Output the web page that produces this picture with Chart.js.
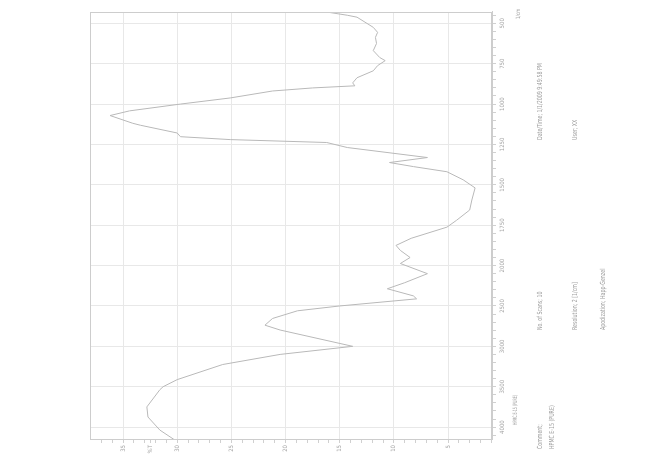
<!DOCTYPE html>
<html>
<head>
<meta charset="utf-8">
<script src="https://cdn.jsdelivr.net/npm/chart.js@4/dist/chart.umd.min.js"></script>
<style>
  body { margin: 0; background: #fff; overflow: hidden; width: 669px; height: 455px; }
  #wrap { position: absolute; left: 107px; top: -107px; width: 455px; height: 669px; transform: rotate(-90deg); }
  #c { position: absolute; left: 0; top: 0; }
  .t { position: absolute; font: 7px "Liberation Sans Narrow", "DejaVu Sans Condensed", sans-serif; line-height: 8px;
       color: #9a9a9a; white-space: nowrap; transform: scaleX(0.75); transform-origin: left center; }
</style>
</head>
<body>
<div id="wrap">
  <canvas id="c" width="455" height="669"></canvas>
  <div class="t" style="left:30px;top:511px;font-size:6px;transform:scaleX(0.6)">HPMC E-15 (PURE)</div>
  <div class="t" style="left:436px;top:514px;font-size:6px">1/cm</div>
  <div class="t" style="left:6px;top:536px">Comment;</div>
  <div class="t" style="left:6px;top:548px">HPMC E-15 (PURE)</div>
  <div class="t" style="left:125px;top:536px">No. of Scans; 10</div>
  <div class="t" style="left:125px;top:571px">Resolution; 2 [1/cm]</div>
  <div class="t" style="left:125px;top:599px">Apodization; Happ-Genzel</div>
  <div class="t" style="left:315px;top:536px">Date/Time; 1/1/2009 9:49:58 PM</div>
  <div class="t" style="left:315px;top:571px">User; XX</div>
</div>
<script>
// IR spectrum (wavenumber in 1/cm, transmittance in %T)
const WAVENUMBER = [4162, 4037, 3875, 3750, 3537, 3500, 3412, 3225, 3100, 3000, 2798, 2738, 2655, 2560, 2500,
  2412, 2375, 2287, 2212, 2100, 1987, 1950, 1906, 1875, 1831, 1762, 1719, 1656, 1594, 1519, 1469, 1419, 1387,
  1362, 1331, 1269, 1238, 1220, 1202, 1179, 1131, 1119, 1071, 1042, 1000, 962, 919, 900, 887, 869, 837, 794,
  762, 731, 712, 669, 625, 587, 556, 525, 462, 450, 431];
const TRANSMITTANCE = [30.2, 31.6, 32.7, 32.8, 31.6, 31.3, 30.0, 25.8, 20.5, 13.8, 20.5, 21.9, 21.2, 18.9, 15.0,
  7.9, 8.2, 10.6, 9.0, 6.9, 9.4, 8.5, 9.4, 9.8, 8.4, 5.1, 4.2, 3.0, 2.8, 2.5, 3.6, 5.1, 8.2,
  10.4, 6.9, 14.3, 16.2, 25.1, 29.7, 30.0, 33.4, 34.1, 36.2, 34.4, 29.7, 25.1, 21.2, 17.5, 13.6, 13.8, 13.4, 11.9,
  11.5, 10.8, 11.3, 11.9, 11.6, 11.7, 11.5, 11.9, 13.4, 14.3, 16.1];
const WN_TICKS = [4000, 3500, 3000, 2500, 2000, 1750, 1500, 1250, 1000, 750, 500];
const T_TICKS = [35, 30, 25, 20, 15, 10, 5];

// wavenumber axis is expanded 2x below 2000 1/cm
const tf = v => (v <= 2000 ? v : 2000 + (v - 2000) / 2);
const itf = t => (t <= 2000 ? t : 2000 + (t - 2000) * 2);

class SplitScale extends Chart.LinearScale {
  getPixelForValue(v) {
    if (v === null || v === undefined) return NaN;
    const a = tf(this.min), b = tf(this.max);
    return this.getPixelForDecimal((tf(v) - a) / (b - a));
  }
  getValueForPixel(p) {
    const a = tf(this.min), b = tf(this.max);
    return itf(a + this.getDecimalForPixel(p) * (b - a));
  }
}
SplitScale.id = "split";
SplitScale.defaults = Chart.LinearScale.defaults;
Chart.register(SplitScale);

const wnMinor = [];
for (let v = 450; v <= 4100; v += v < 2000 ? 50 : 100) wnMinor.push(v);
const tMinor = [];
for (let v = 1; v <= 37; v++) tMinor.push(v);

const frame = {
  id: "frame",
  afterDraw(chart) {
    const { ctx, chartArea: a } = chart;
    ctx.save();
    ctx.strokeStyle = "#cdcdcd";
    ctx.lineWidth = 1;
    ctx.strokeRect(a.left + 0.5, a.top + 0.5, a.right - a.left - 1, a.bottom - a.top - 1);
    ctx.restore();
  },
};

const gridColor = (majors) => (c) =>
  c.tick && majors.includes(c.tick.value) ? "#e8e8e8" : "rgba(0,0,0,0)";
const tickFont = { family: "'Liberation Sans Narrow', 'DejaVu Sans Condensed', sans-serif", size: 6 };

new Chart(document.getElementById("c").getContext("2d"), {
  type: "scatter",
  data: {
    datasets: [
      {
        label: "HPMC E-15 (PURE)",
        data: WAVENUMBER.map((w, i) => ({ x: w, y: TRANSMITTANCE[i] })),
        showLine: true,
        borderColor: "#b9b9b9",
        borderWidth: 1,
        pointRadius: 0,
        tension: 0,
      },
    ],
  },
  options: {
    responsive: false,
    animation: false,
    devicePixelRatio: 1,
    layout: { padding: { left: 0, right: 12, top: 90, bottom: 152 } },
    plugins: { legend: { display: false }, tooltip: { enabled: false } },
    scales: {
      x: {
        type: "split",
        reverse: true,
        min: 430,
        max: 4160,
        afterFit: (s) => { s.height = 25; },
        afterBuildTicks: (s) => {
          s.ticks = WN_TICKS.concat(wnMinor.filter((v) => !WN_TICKS.includes(v))).map((v) => ({ value: v }));
        },
        ticks: {
          autoSkip: false,
          maxRotation: 0,
          padding: 3,
          color: "#a6a6a6",
          font: tickFont,
          callback: (v) => (WN_TICKS.includes(v) ? String(v) : ""),
        },
        grid: { color: gridColor(WN_TICKS), tickColor: "#d0d0d0", tickLength: 4 },
        border: { color: "#cdcdcd" },
      },
      y: {
        min: 0.94,
        max: 38.05,
        afterFit: (s) => { s.width = 15; },
        afterBuildTicks: (s) => {
          s.ticks = T_TICKS.concat([32.5], tMinor.filter((v) => !T_TICKS.includes(v))).map((v) => ({ value: v }));
        },
        ticks: {
          autoSkip: false,
          padding: 2,
          color: "#a6a6a6",
          font: tickFont,
          callback: (v) => (v === 32.5 ? "%T" : T_TICKS.includes(v) ? String(v) : ""),
        },
        grid: { color: gridColor(T_TICKS), tickColor: "#d0d0d0", tickLength: 3 },
        border: { color: "#cdcdcd" },
      },
    },
  },
  plugins: [frame],
});
</script>
</body>
</html>
